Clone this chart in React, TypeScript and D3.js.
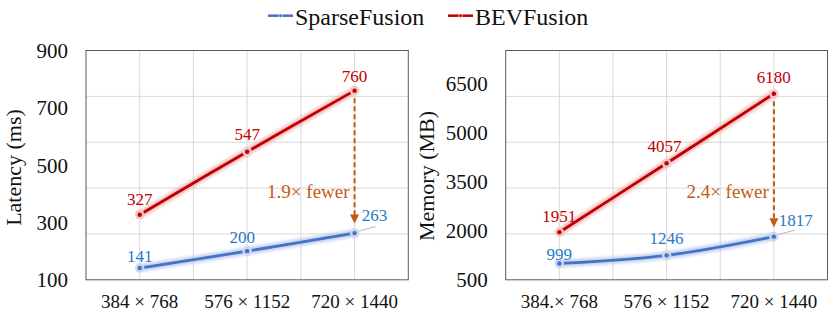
import * as d3 from 'd3';

// categories / values
const resolutionsLatency = ['384 × 768', '576 × 1152', '720 × 1440'];
const resolutionsMemory = ['384.× 768', '576 × 1152', '720 × 1440'];
const latencySparse = [141, 200, 263];
const latencyBev = [327, 547, 760];
const memorySparse = [999, 1246, 1817];
const memoryBev = [1951, 4057, 6180];
const latencyTicks = [100, 300, 500, 700, 900];
const memoryTicks = [500, 2000, 3500, 5000, 6500];
const latencyDomain = [100, 900];
const memoryDomain = [500, 7500];
const seriesNames = ['SparseFusion', 'BEVFusion'];

const RED = '#C00000';
const BLUE = '#4472C4';
const BLUE_TEXT = '#2878C8';
const ORANGE = '#C55A11';
const FONT = "'Liberation Serif', 'DejaVu Serif', serif";

const W = 830;
const H = 315;
const TOP = 50.5;
const BOTTOM = 279.8;

interface PanelProps {
  left: number;
  right: number;
  categories: string[];
  sparse: number[];
  bev: number[];
  ticks: number[];
  domain: number[];
  title: string;
  titleX: number;
  titleY: number;
  ratio: string;
  sparseOffsets: [number, number][];
  bevOffsets: [number, number][];
}

function Panel(p: PanelProps) {
  const x = d3.scaleBand<string>().domain(p.categories).range([p.left, p.right]).padding(0);
  const cx = (c: string) => (x(c) || 0) + x.bandwidth() / 2;
  const y = d3.scaleLinear().domain(p.domain).range([BOTTOM, TOP]);
  const span = p.domain[1] - p.domain[0];
  const hGrid = d3.range(1, 5).map(k => p.domain[0] + (k * span) / 5);
  const vGrid = p.categories.flatMap((c, i) => (i === 0 ? [cx(c)] : [x(c) || 0, cx(c)]));

  const line = d3
    .line<number>()
    .x((_, i) => cx(p.categories[i]))
    .y(d => y(d))
    .curve(d3.curveCatmullRom.alpha(0.5));

  const last = p.categories.length - 1;
  const ax = cx(p.categories[last]);
  const yTop = y(p.bev[last]) + 7.5;
  const yTip = y(p.sparse[last]) - 9.5;

  const series = [
    { values: p.sparse, color: BLUE, glow: '#a9c0ea', ring: '#c9d6ef', text: BLUE_TEXT, offsets: p.sparseOffsets },
    { values: p.bev, color: RED, glow: '#f0a3a3', ring: '#f3c6c6', text: RED, offsets: p.bevOffsets },
  ];

  return (
    <g style={{ fontFamily: FONT }}>
      {hGrid.map(v => (
        <line key={'h' + v} x1={p.left} x2={p.right} y1={y(v)} y2={y(v)} stroke="#d9d9d9" strokeWidth={1} />
      ))}
      {vGrid.map((v, i) => (
        <line key={'v' + i} x1={v} x2={v} y1={TOP} y2={BOTTOM} stroke="#d9d9d9" strokeWidth={1} />
      ))}
      <rect x={p.left} y={TOP} width={p.right - p.left} height={BOTTOM - TOP} fill="none" stroke="#595959" strokeWidth={1} />

      {/* y tick labels */}
      {p.ticks.map(t => (
        <text key={t} x={p.left - 18} y={y(t)} dy="0.35em" textAnchor="end" fontSize={21} fill="#111">
          {t}
        </text>
      ))}
      {/* x tick labels */}
      {p.categories.map(c => (
        <text key={c} x={cx(c)} y={308} textAnchor="middle" fontSize={19} fill="#111">
          {c}
        </text>
      ))}
      <text
        transform={`translate(${p.titleX},${p.titleY}) rotate(-90)`}
        textAnchor="middle"
        fontSize={22}
        fill="#111"
      >
        {p.title}
      </text>

      {/* lines with glow */}
      {series.map((s, si) => (
        <g key={si}>
          <path d={line(s.values) || ''} fill="none" stroke={s.glow} strokeWidth={7.5} opacity={0.7} filter="url(#glow)" />
          <path d={line(s.values) || ''} fill="none" stroke={s.color} strokeWidth={2.8} strokeLinecap="round" />
        </g>
      ))}

      {/* leader line for last sparse label */}
      <line x1={ax + 4} y1={y(p.sparse[last]) - 2} x2={ax + 21} y2={y(p.sparse[last]) - 6.5} stroke="#a6a6a6" strokeWidth={0.8} />

      {/* arrow */}
      <line x1={ax} x2={ax} y1={yTop} y2={yTip - 7} stroke={ORANGE} strokeWidth={2} strokeDasharray="5,3" />
      <path d={`M${ax - 4.5},${yTip - 9} L${ax + 4.5},${yTip - 9} L${ax},${yTip} Z`} fill={ORANGE} />
      <text x={ax - 5} y={198} textAnchor="end" fontSize={19} fill={ORANGE}>
        {p.ratio}
      </text>

      {/* markers and labels */}
      {series.map((s, si) => (
        <g key={'m' + si}>
          {s.values.map((v, i) => (
            <g key={i}>
              <circle cx={cx(p.categories[i])} cy={y(v)} r={4.8} fill={s.ring} opacity={0.95} />
              <circle cx={cx(p.categories[i])} cy={y(v)} r={2.2} fill={s.color} />
              <text
                x={cx(p.categories[i]) + s.offsets[i][0]}
                y={y(v) + s.offsets[i][1]}
                textAnchor="middle"
                fontSize={17}
                fill={s.text}
              >
                {v}
              </text>
            </g>
          ))}
        </g>
      ))}
    </g>
  );
}

export default function App() {
  const legendItems = [
    { name: seriesNames[0], color: BLUE, x: 268 },
    { name: seriesNames[1], color: RED, x: 448 },
  ];
  return (
    <svg width={W} height={H} style={{ position: 'absolute', left: 0, top: 0, background: '#fff', fontFamily: FONT }}>
      <defs>
        <filter id="glow" x="-10%" y="-30%" width="120%" height="160%">
          <feGaussianBlur stdDeviation={1.8} />
        </filter>
      </defs>
      <rect width={W} height={H} fill="#fff" />

      {legendItems.map(l => (
        <g key={l.name}>
          <line x1={l.x} x2={l.x + 25} y1={15.7} y2={15.7} stroke={l.color} strokeWidth={2.5} />
          <circle cx={l.x + 12.5} cy={15.7} r={1.8} fill={l.color} stroke="#fff" strokeWidth={0.6} />
          <text x={l.x + 27} y={25} fontSize={24} fill="#111">
            {l.name}
          </text>
        </g>
      ))}

      <Panel
        left={86}
        right={408.3}
        categories={resolutionsLatency}
        sparse={latencySparse}
        bev={latencyBev}
        ticks={latencyTicks}
        domain={latencyDomain}
        title="Latency (ms)"
        titleX={20.5}
        titleY={167.5}
        ratio="1.9× fewer"
        sparseOffsets={[[0, -6], [-5, -8], [20, -12]]}
        bevOffsets={[[0, -9.5], [0, -11.5], [0, -9]]}
      />
      <Panel
        left={505.7}
        right={827.5}
        categories={resolutionsMemory}
        sparse={memorySparse}
        bev={memoryBev}
        ticks={memoryTicks}
        domain={memoryDomain}
        title="Memory (MB)"
        titleX={433.5}
        titleY={176}
        ratio="2.4× fewer"
        sparseOffsets={[[0, -3.5], [0, -11], [22, -11]]}
        bevOffsets={[[0, -10.5], [-2, -11], [0, -10.5]]}
      />
    </svg>
  );
}
